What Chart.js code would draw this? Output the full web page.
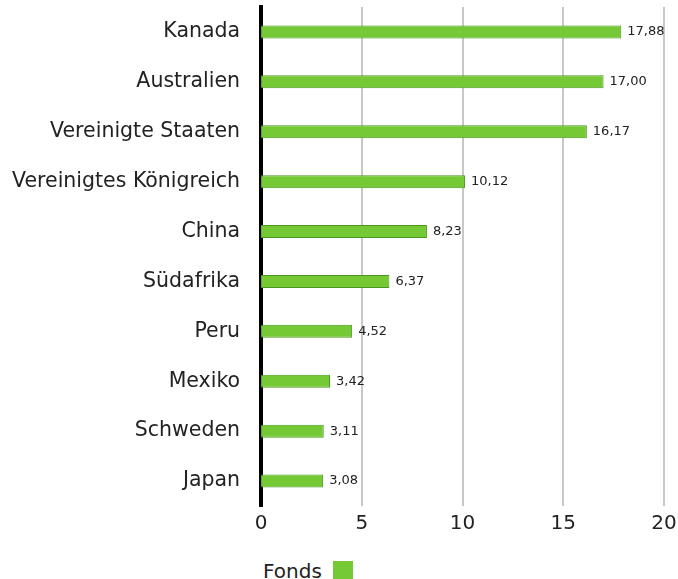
<!DOCTYPE html>
<html>
<head>
<meta charset="utf-8">
<script src="https://cdn.jsdelivr.net/npm/chart.js@4/dist/chart.umd.min.js"></script>
<style>
  body { margin: 0; background: #fff; font-family: "DejaVu Sans", sans-serif; }
  #wrap { position: relative; width: 678px; height: 542px; }
  #legend { position: absolute; left: 263px; top: 559px; font-size: 20px; color: #222; display: flex; align-items: center; }
  #legend span.box { display: inline-block; width: 20px; height: 20px; background: #74c935; margin-left: 11px; }
</style>
</head>
<body>
<div id="wrap"><canvas id="myChart"></canvas></div>
<div id="legend">Fonds<span class="box"></span></div>
<script>
const countries = ['Kanada', 'Australien', 'Vereinigte Staaten', 'Vereinigtes Königreich', 'China',
  'Südafrika', 'Peru', 'Mexiko', 'Schweden', 'Japan'];
const fonds = [17.88, 17.00, 16.17, 10.12, 8.23, 6.37, 4.52, 3.42, 3.11, 3.08];
const xTicks = [0, 5, 10, 15, 20];

// value labels at bar ends
const valueLabels = {
  id: 'valueLabels',
  afterDatasetsDraw(chart) {
    const ctx = chart.ctx;
    const meta = chart.getDatasetMeta(0);
    ctx.save();
    ctx.font = '13px "DejaVu Sans", sans-serif';
    ctx.fillStyle = '#222';
    ctx.textBaseline = 'middle';
    meta.data.forEach((bar, i) => {
      ctx.fillText(fonds[i].toFixed(2).replace('.', ','), bar.x + 6, bar.y);
    });
    ctx.restore();
  }
};

const config = {
  type: 'bar',
  data: {
    labels: countries,
    datasets: [{
      label: 'Fonds',
      data: fonds,
      backgroundColor: '#74c935',
      borderColor: '#4a9620',
      borderWidth: 1,
      barPercentage: 0.52,
      categoryPercentage: 0.5
    }]
  },
  options: {
    indexAxis: 'y',
    responsive: true,
    maintainAspectRatio: false,
    animation: false,
    layout: { padding: { top: 7, right: 14, left: 8 } },
    scales: {
      x: {
        min: 0,
        max: 20,
        afterBuildTicks: (axis) => { axis.ticks = xTicks.map(v => ({ value: v })); },
        afterFit: (s) => { s.paddingLeft = 0; s.paddingRight = 0; },
        grid: {
          color: (c) => c.tick && c.tick.value === 0 ? '#000' : '#c8c8c8',
          lineWidth: (c) => c.tick && c.tick.value === 0 ? 0 : 2,
          drawTicks: false
        },
        border: { display: false },
        ticks: {
          color: '#222',
          padding: 6,
          font: { family: '"DejaVu Sans", sans-serif', size: 20 }
        }
      },
      y: {
        afterFit: (s) => { s.paddingTop = 0; s.paddingBottom = 0; s.width -= 17; },
        grid: { display: false, drawTicks: false },
        border: { display: true, color: '#000', width: 4 },
        ticks: {
          color: '#222',
          padding: 21,
          font: { family: '"DejaVu Sans", sans-serif', size: 20.5 }
        }
      }
    },
    plugins: {
      legend: { display: false },
      tooltip: { enabled: false }
    }
  },
  plugins: [valueLabels]
};

const myChart = new Chart(document.getElementById('myChart'), config);
</script>
</body>
</html>
